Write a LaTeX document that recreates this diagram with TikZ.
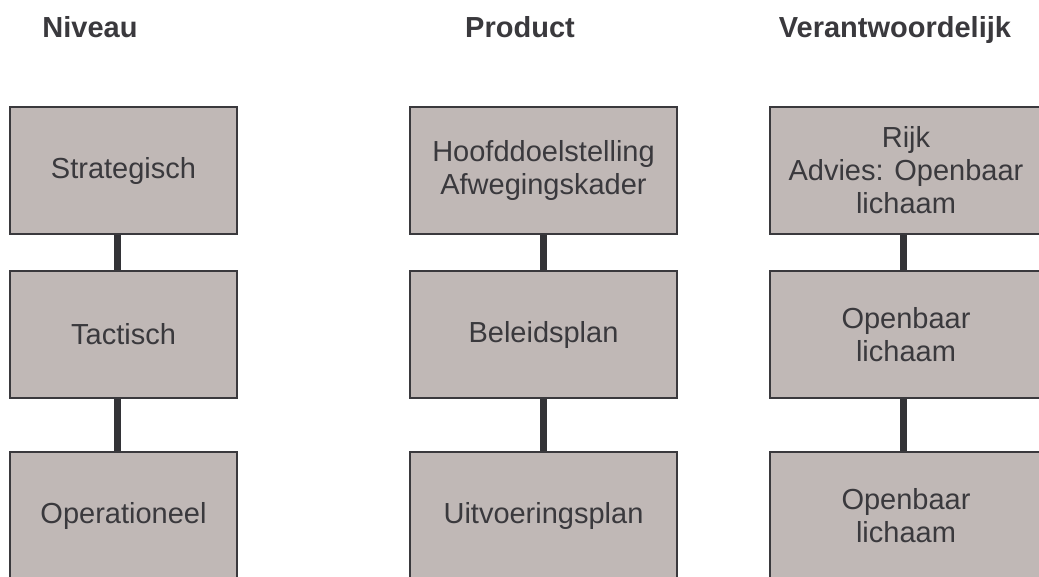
\documentclass[tikz,border=0pt]{standalone}
\usepackage{fontspec}
\setmainfont{Liberation Sans}
\definecolor{boxfill}{HTML}{C0B8B6}
\definecolor{ink}{HTML}{3A393D}
\definecolor{connink}{HTML}{333337}
\begin{document}
\begin{tikzpicture}[x=1pt,y=-1pt,
  box/.style={draw=ink, line width=1.5pt, fill=boxfill, text=ink, align=center,
    minimum height=127pt, inner sep=0pt, font=\fontsize{29}{33}\selectfont},
  boxA/.style={box, minimum width=227pt},
  boxB/.style={box, minimum width=267pt},
  boxC/.style={box, minimum width=272pt},
  head/.style={anchor=base, text=ink, inner sep=0pt, font=\fontsize{29}{33}\selectfont\bfseries},
  conn/.style={draw=connink, line width=7pt}]
\useasboundingbox (0,0) rectangle (1039,576);
\node[head] (h1) at (90,37) {Niveau};
\node[head] (h2) at (520,37) {Product};
\node[head] (h3) at (895,37) {Verantwoordelijk};
\node[boxA] (a1) at (123.5,170.5) {Strategisch};
\node[boxA] (a2) at (123.5,334.5) {Tactisch};
\node[boxA] (a3) at (123.5,515.5) {Operationeel};
\node[boxB] (b1) at (543.5,170.5) {Hoofddoelstelling\\Afwegingskader};
\node[boxB] (b2) at (543.5,334.5) {Beleidsplan};
\node[boxB] (b3) at (543.5,515.5) {Uitvoeringsplan};
\node[boxC] (c1) at (906,170.5) {Rijk\\Advies: Openbaar\\lichaam};
\node[boxC] (c2) at (906,334.5) {Openbaar\\lichaam};
\node[boxC] (c3) at (906,515.5) {Openbaar\\lichaam};
\draw[conn] ([xshift=-6.5pt]a1.south) -- ([xshift=-6.5pt]a2.north);
\draw[conn] ([xshift=-6.5pt]a2.south) -- ([xshift=-6.5pt]a3.north);
\draw[conn] (b1.south) -- (b2.north);
\draw[conn] (b2.south) -- (b3.north);
\draw[conn] ([xshift=-3pt]c1.south) -- ([xshift=-3pt]c2.north);
\draw[conn] ([xshift=-3pt]c2.south) -- ([xshift=-3pt]c3.north);
\end{tikzpicture}
\end{document}
